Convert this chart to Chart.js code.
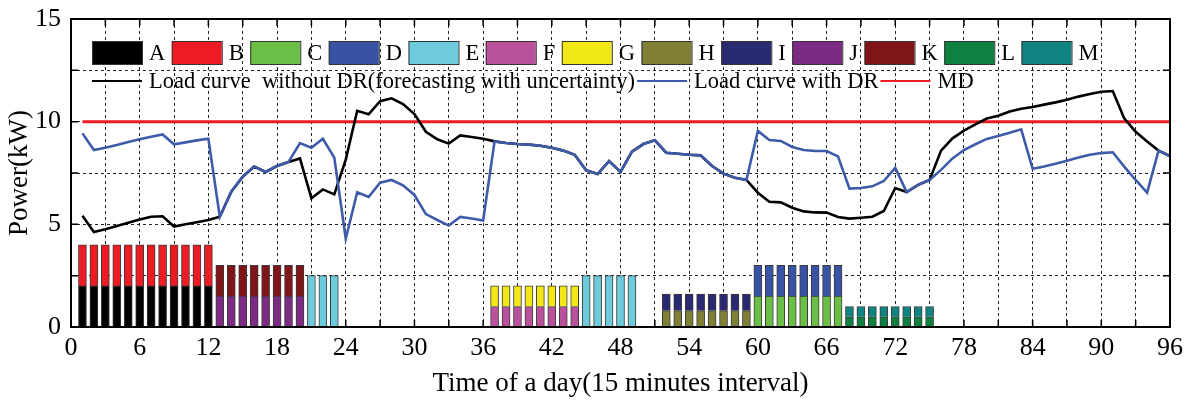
<!DOCTYPE html>
<html>
<head>
<meta charset="utf-8">
<script src="https://cdn.jsdelivr.net/npm/chart.js@4.4.0/dist/chart.umd.min.js"></script>
<style>
html, body { margin: 0; padding: 0; background: #fff; }
</style>
</head>
<body>
<canvas id="loadChart" width="1189" height="403"></canvas>
<script>
// time slots (15 min intervals) 1..96
var slots = [1,2,3,4,5,6,7,8,9,10,11,12,13,14,15,16,17,18,19,20,21,22,23,24,
  25,26,27,28,29,30,31,32,33,34,35,36,37,38,39,40,41,42,43,44,45,46,47,48,
  49,50,51,52,53,54,55,56,57,58,59,60,61,62,63,64,65,66,67,68,69,70,71,72,
  73,74,75,76,77,78,79,80,81,82,83,84,85,86,87,88,89,90,91,92,93,94,95,96];

var loadWithoutDR = [5.42,4.63,4.76,4.92,5.08,5.23,5.37,5.39,4.89,5.0,5.1,5.21,
  5.37,6.59,7.32,7.81,7.55,7.84,8.04,8.21,6.27,6.7,6.46,8.15,
  10.53,10.36,11.0,11.14,10.86,10.37,9.51,9.14,8.93,9.33,9.25,9.17,
  9.04,8.96,8.91,8.88,8.83,8.73,8.59,8.39,7.63,7.45,8.08,7.55,
  8.54,8.91,9.09,8.49,8.44,8.39,8.36,7.84,7.47,7.27,7.16,6.54,
  6.1,6.07,5.81,5.63,5.58,5.57,5.36,5.28,5.32,5.37,5.65,6.77,
  6.57,6.92,7.16,8.59,9.19,9.56,9.87,10.15,10.29,10.49,10.63,10.71,
  10.83,10.94,11.07,11.22,11.35,11.46,11.49,10.16,9.51,9.03,8.59,8.33];

var loadWithDR = [9.43,8.62,8.73,8.86,9.01,9.14,9.27,9.38,8.9,8.99,9.09,9.17,
  5.37,6.59,7.32,7.81,7.55,7.84,8.04,8.96,8.73,9.17,8.25,4.3,
  6.56,6.33,7.03,7.16,6.9,6.43,5.5,5.21,4.94,5.36,5.28,5.19,
  9.04,8.96,8.91,8.88,8.83,8.73,8.59,8.39,7.63,7.45,8.08,7.55,
  8.54,8.91,9.09,8.49,8.44,8.39,8.36,7.84,7.47,7.27,7.16,9.55,
  9.11,9.06,8.77,8.62,8.57,8.57,8.31,6.74,6.77,6.85,7.11,7.75,
  6.57,6.92,7.16,7.65,8.21,8.62,8.9,9.16,9.3,9.46,9.63,7.71,
  7.82,7.95,8.1,8.25,8.39,8.47,8.51,7.81,7.16,6.54,8.59,8.33];

var mdSlots = [1, 96];
var mdValues = [10, 10];

// appliance loads (kW) and the slots they run in
var barNames = ['A','B','C','D','E','F','G','H','I','J','K','L','M'];
var slotsA = [1,2,3,4,5,6,7,8,9,10,11,12];
var loadA = [2,2,2,2,2,2,2,2,2,2,2,2];
var slotsB = [1,2,3,4,5,6,7,8,9,10,11,12];
var loadB = [2,2,2,2,2,2,2,2,2,2,2,2];
var slotsC = [60,61,62,63,64,65,66,67];
var loadC = [1.5,1.5,1.5,1.5,1.5,1.5,1.5,1.5];
var slotsD = [60,61,62,63,64,65,66,67];
var loadD = [1.5,1.5,1.5,1.5,1.5,1.5,1.5,1.5];
var slotsE = [21,22,23,45,46,47,48,49];
var loadE = [2.5,2.5,2.5,2.5,2.5,2.5,2.5,2.5];
var slotsF = [37,38,39,40,41,42,43,44];
var loadF = [1,1,1,1,1,1,1,1];
var slotsG = [37,38,39,40,41,42,43,44];
var loadG = [1,1,1,1,1,1,1,1];
var slotsH = [52,53,54,55,56,57,58,59];
var loadH = [0.8,0.8,0.8,0.8,0.8,0.8,0.8,0.8];
var slotsI = [52,53,54,55,56,57,58,59];
var loadI = [0.8,0.8,0.8,0.8,0.8,0.8,0.8,0.8];
var slotsJ = [13,14,15,16,17,18,19,20];
var loadJ = [1.5,1.5,1.5,1.5,1.5,1.5,1.5,1.5];
var slotsK = [13,14,15,16,17,18,19,20];
var loadK = [1.5,1.5,1.5,1.5,1.5,1.5,1.5,1.5];
var slotsL = [68,69,70,71,72,73,74,75];
var loadL = [0.5,0.5,0.5,0.5,0.5,0.5,0.5,0.5];
var slotsM = [68,69,70,71,72,73,74,75];
var loadM = [0.5,0.5,0.5,0.5,0.5,0.5,0.5,0.5];

var lineNames = ['Load curve  without DR(forecasting with uncertainty)', 'Load curve with DR', 'MD'];

var barColors = ['#000000','#ed1c24','#6cbf46','#3953a4','#6dcbdc','#b9519c','#f2e816',
  '#7f8035','#2a2a72','#7d2a84','#7f1518','#0e8040','#0f8482'];
var lineColors = ['#000000', '#3d5ba8', '#ed1c24'];
var serif = '"Liberation Serif", "Times New Roman", serif';

function toPoints(xs, ys) {
  return xs.map(function (x, i) { return { x: x, y: ys[i] }; });
}

var barSlots = [slotsA, slotsB, slotsC, slotsD, slotsE, slotsF, slotsG, slotsH, slotsI, slotsJ, slotsK, slotsL, slotsM];
var barLoads = [loadA, loadB, loadC, loadD, loadE, loadF, loadG, loadH, loadI, loadJ, loadK, loadL, loadM];

var datasets = [
  {
    type: 'line', label: lineNames[2], data: toPoints(mdSlots, mdValues),
    borderColor: lineColors[2], borderWidth: 3, pointRadius: 0, order: 2
  },
  {
    type: 'line', label: lineNames[0], data: toPoints(slots, loadWithoutDR),
    borderColor: lineColors[0], borderWidth: 2.6, pointRadius: 0, tension: 0, order: 1
  },
  {
    type: 'line', label: lineNames[1], data: toPoints(slots, loadWithDR),
    borderColor: lineColors[1], borderWidth: 2.6, pointRadius: 0, tension: 0, order: 0
  }
];
barNames.forEach(function (name, i) {
  datasets.push({
    type: 'bar', label: name, stack: 'loads',
    data: toPoints(barSlots[i], barLoads[i]),
    backgroundColor: barColors[i], borderColor: '#3a3a3a', borderWidth: 1,
    barThickness: 8, order: 3
  });
});

// inward tick marks go under the bars, like in the paper figure
var paperTicks = {
  id: 'paperTicks',
  beforeDatasetsDraw: function (chart) {
    var ctx = chart.ctx;
    var area = chart.chartArea;
    var xs = chart.scales.x, ys = chart.scales.y;
    ctx.save();
    ctx.strokeStyle = '#000';
    ctx.lineWidth = 1.5;
    ctx.beginPath();
    xs.ticks.forEach(function (t) {
      var px = xs.getPixelForValue(t.value);
      ctx.moveTo(px, area.bottom); ctx.lineTo(px, area.bottom - 7);
      ctx.moveTo(px, area.top); ctx.lineTo(px, area.top + 7);
    });
    ys.ticks.forEach(function (t) {
      var py = ys.getPixelForValue(t.value);
      ctx.moveTo(area.left, py); ctx.lineTo(area.left + 7, py);
      ctx.moveTo(area.right, py); ctx.lineTo(area.right - 7, py);
    });
    ctx.stroke();
    ctx.restore();
  }
};

// legend inside the plot + frame
var paperDecor = {
  id: 'paperDecor',
  afterDraw: function (chart) {
    var ctx = chart.ctx;
    var area = chart.chartArea;
    ctx.save();
    ctx.strokeStyle = '#000';
    ctx.lineWidth = 2;
    ctx.strokeRect(area.left, area.top, area.right - area.left, area.bottom - area.top);

    ctx.font = '22.5px ' + serif;
    ctx.textBaseline = 'middle';
    var x = 92;
    barNames.forEach(function (name, i) {
      ctx.fillStyle = barColors[i];
      ctx.fillRect(x, 41, 50, 23);
      ctx.strokeStyle = '#333';
      ctx.lineWidth = 1;
      ctx.strokeRect(x + 0.5, 41.5, 50, 23);
      ctx.fillStyle = '#000';
      ctx.fillText(name, x + 57, 54);
      x += 57 + ctx.measureText(name).width + 6.5;
    });

    x = 92;
    lineNames.forEach(function (name, i) {
      ctx.strokeStyle = lineColors[i];
      ctx.lineWidth = 2;
      ctx.beginPath();
      ctx.moveTo(x, 81); ctx.lineTo(x + 50, 81);
      ctx.stroke();
      ctx.fillStyle = '#000';
      ctx.fillText(name, x + 57, 82);
      x += 57 + ctx.measureText(name).width + 2;
    });
    ctx.restore();
  }
};

new Chart(document.getElementById('loadChart'), {
  data: { datasets: datasets },
  options: {
    responsive: false,
    animation: false,
    layout: { padding: { top: 19, right: 19, left: 0, bottom: 0 } },
    plugins: {
      legend: { display: false },
      tooltip: { enabled: false }
    },
    scales: {
      x: {
        type: 'linear', min: 0, max: 96, offset: false,
        afterFit: function (scale) {
          scale.height = 76;
          scale.paddingLeft = 0;
          scale.paddingRight = 0;
        },
        ticks: {
          stepSize: 3, autoSkip: false, maxRotation: 0, padding: 6, color: '#000',
          font: { family: serif, size: 26 },
          callback: function (v) { return v % 6 === 0 ? v : ''; }
        },
        grid: { color: '#222', lineWidth: 1, drawTicks: false, offset: false },
        border: { display: false, dash: [3, 3] },
        title: {
          display: true, text: 'Time of a day(15 minutes interval)', color: '#000',
          font: { family: serif, size: 27 }, padding: { top: 0, bottom: 3 }
        }
      },
      y: {
        min: 0, max: 15,
        afterFit: function (scale) {
          scale.width = 71;
          scale.paddingTop = 0;
          scale.paddingBottom = 0;
        },
        ticks: {
          stepSize: 2.5, autoSkip: false, padding: 10, color: '#000',
          font: { family: serif, size: 26 },
          callback: function (v) { return v % 5 === 0 ? v : ''; }
        },
        grid: { color: '#222', lineWidth: 1, drawTicks: false },
        border: { display: false, dash: [3, 3] },
        title: {
          display: true, text: 'Power(kW)', color: '#000',
          font: { family: serif, size: 27 }, padding: { top: 4, bottom: 0 }
        }
      }
    }
  },
  plugins: [paperTicks, paperDecor]
});
</script>
</body>
</html>
